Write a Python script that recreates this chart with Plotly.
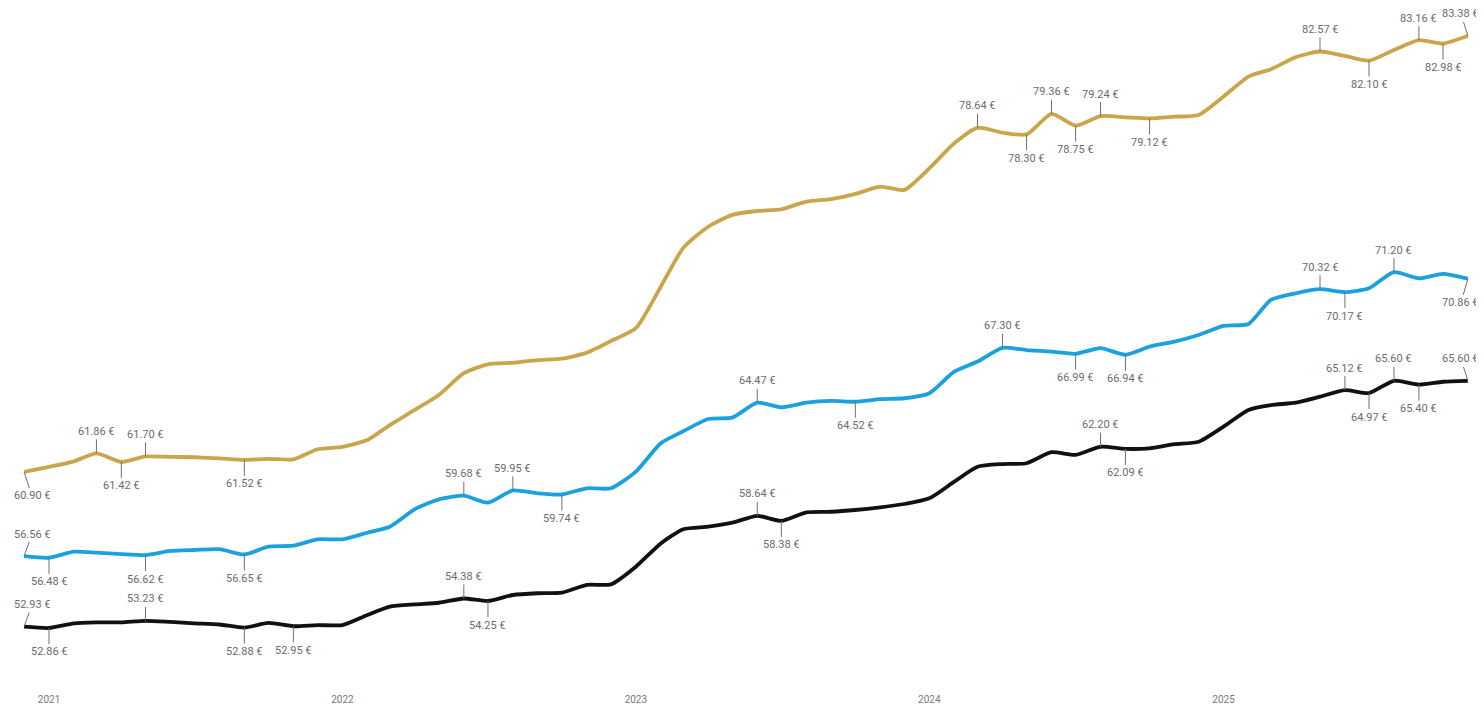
import plotly.graph_objects as go
import pandas as pd

# Monthly dates (Dec 2020 .. Nov 2025)
dates = pd.date_range("2020-12-01", periods=60, freq="MS")

gold = [60.90, 61.16, 61.45, 61.86, 61.42, 61.70, 61.68, 61.66, 61.60, 61.52,
        61.58, 61.55, 62.07, 62.20, 62.55, 63.32, 64.10, 64.87, 65.99, 66.45,
        66.53, 66.67, 66.74, 67.05, 67.65, 68.31, 70.45, 72.45, 73.54, 74.15,
        74.35, 74.44, 74.83, 74.96, 75.23, 75.61, 75.44, 76.55, 77.84, 78.64,
        78.39, 78.30, 79.36, 78.75, 79.24, 79.18, 79.12, 79.21, 79.30, 80.25,
        81.28, 81.66, 82.28, 82.57, 82.34, 82.10, 82.65, 83.16, 82.98, 83.38]

blue = [56.56, 56.48, 56.79, 56.74, 56.67, 56.62, 56.83, 56.88, 56.92, 56.65,
        57.05, 57.10, 57.43, 57.43, 57.77, 58.08, 58.98, 59.49, 59.68, 59.32,
        59.95, 59.80, 59.74, 60.06, 60.06, 60.92, 62.38, 63.00, 63.63, 63.70,
        64.47, 64.23, 64.47, 64.56, 64.52, 64.65, 64.70, 64.96, 66.07, 66.59,
        67.30, 67.18, 67.10, 66.99, 67.28, 66.94, 67.36, 67.62, 67.96, 68.43,
        68.53, 69.77, 70.11, 70.32, 70.17, 70.37, 71.20, 70.88, 71.11, 70.86]

black = [52.93, 52.86, 53.10, 53.15, 53.15, 53.23, 53.17, 53.10, 53.04, 52.88,
         53.12, 52.95, 53.01, 53.01, 53.53, 53.96, 54.08, 54.16, 54.38, 54.25,
         54.56, 54.65, 54.68, 55.08, 55.11, 56.02, 57.22, 57.95, 58.08, 58.29,
         58.64, 58.38, 58.82, 58.85, 58.94, 59.08, 59.25, 59.54, 60.40, 61.17,
         61.31, 61.35, 61.92, 61.78, 62.20, 62.09, 62.12, 62.33, 62.46, 63.24,
         64.10, 64.35, 64.47, 64.78, 65.12, 64.97, 65.60, 65.40, 65.55, 65.60]

# Labelled points: (index, side)
gold_labels = [(0, "below"), (3, "above"), (4, "below"), (5, "above"), (9, "below"),
               (39, "above"), (41, "below"), (42, "above"), (43, "below"), (44, "above"),
               (46, "below"), (53, "above"), (55, "below"), (57, "above"), (58, "below"),
               (59, "above")]
blue_labels = [(0, "above"), (1, "below"), (5, "below"), (9, "below"), (18, "above"),
               (20, "above"), (22, "below"), (30, "above"), (34, "below"), (40, "above"),
               (43, "below"), (45, "below"), (53, "above"), (54, "below"), (56, "above"),
               (59, "below")]
black_labels = [(0, "above"), (1, "below"), (5, "above"), (9, "below"), (11, "below"),
                (18, "above"), (19, "below"), (30, "above"), (31, "below"), (44, "above"),
                (45, "below"), (54, "above"), (55, "below"), (56, "above"), (57, "below"),
                (59, "above")]

tick_years = ["2021", "2022", "2023", "2024", "2025"]

series = [
    ("gold", gold, "#C9A64B", gold_labels),
    ("blue", blue, "#1BA1DE", blue_labels),
    ("black", black, "#111111", black_labels),
]

fig = go.Figure()
annotations = []
last = len(dates) - 1
for name, vals, color, labels in series:
    fig.add_trace(go.Scatter(
        x=dates, y=vals, mode="lines", name=name,
        line=dict(color=color, width=3.8, shape="spline", smoothing=0.6),
        hoverinfo="x+y", showlegend=False,
    ))
    for idx, side in labels:
        ay = -22 if side == "above" else 24
        ax = 0
        if idx == 0:
            ax = 8
        elif idx == last:
            ax = -7
        annotations.append(dict(
            x=dates[idx], y=vals[idx], xref="x", yref="y",
            text=f"{vals[idx]:.2f} €",
            showarrow=True, arrowhead=0, arrowwidth=1, arrowcolor="#707070",
            ax=ax, ay=ay, standoff=0,
            font=dict(family="Roboto, DejaVu Sans", size=11, color="#6b6b6b"),
        ))

fig.update_layout(
    width=1476, height=698,
    margin=dict(l=0, r=0, t=2, b=20),
    paper_bgcolor="white", plot_bgcolor="white",
    annotations=annotations,
    xaxis=dict(
        range=["2020-11-11", "2025-11-21"],
        tickvals=[f"{y}-01-01" for y in tick_years],
        ticktext=tick_years,
        showgrid=False, zeroline=False, showline=False,
        ticks="outside", ticklen=4, tickcolor="rgba(0,0,0,0)",
        tickfont=dict(family="Roboto, DejaVu Sans", size=10, color="#777777"),
    ),
    yaxis=dict(
        range=[49.87, 84.71],
        visible=False, showgrid=False, zeroline=False,
    ),
)

fig.write_html("out.html")
